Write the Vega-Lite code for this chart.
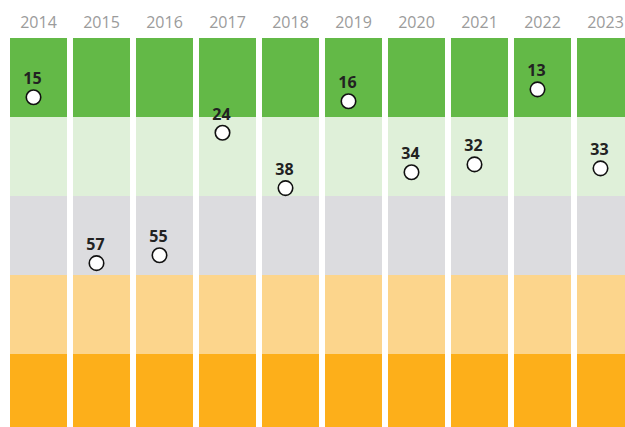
{
  "$schema": "https://vega.github.io/schema/vega-lite/v6.json",
  "autosize": "none",
  "width": 615,
  "height": 389,
  "padding": {"left": 10, "top": 38, "right": 0, "bottom": 0},
  "background": "white",
  "config": {"view": {"stroke": null}},
  "datasets": {
    "bands": [
      {"year": "2014", "band": "1", "lo": 0, "hi": 20}, {"year": "2014", "band": "2", "lo": 20, "hi": 40}, {"year": "2014", "band": "3", "lo": 40, "hi": 60}, {"year": "2014", "band": "4", "lo": 60, "hi": 80}, {"year": "2014", "band": "5", "lo": 80, "hi": 100},
      {"year": "2015", "band": "1", "lo": 0, "hi": 20}, {"year": "2015", "band": "2", "lo": 20, "hi": 40}, {"year": "2015", "band": "3", "lo": 40, "hi": 60}, {"year": "2015", "band": "4", "lo": 60, "hi": 80}, {"year": "2015", "band": "5", "lo": 80, "hi": 100},
      {"year": "2016", "band": "1", "lo": 0, "hi": 20}, {"year": "2016", "band": "2", "lo": 20, "hi": 40}, {"year": "2016", "band": "3", "lo": 40, "hi": 60}, {"year": "2016", "band": "4", "lo": 60, "hi": 80}, {"year": "2016", "band": "5", "lo": 80, "hi": 100},
      {"year": "2017", "band": "1", "lo": 0, "hi": 20}, {"year": "2017", "band": "2", "lo": 20, "hi": 40}, {"year": "2017", "band": "3", "lo": 40, "hi": 60}, {"year": "2017", "band": "4", "lo": 60, "hi": 80}, {"year": "2017", "band": "5", "lo": 80, "hi": 100},
      {"year": "2018", "band": "1", "lo": 0, "hi": 20}, {"year": "2018", "band": "2", "lo": 20, "hi": 40}, {"year": "2018", "band": "3", "lo": 40, "hi": 60}, {"year": "2018", "band": "4", "lo": 60, "hi": 80}, {"year": "2018", "band": "5", "lo": 80, "hi": 100},
      {"year": "2019", "band": "1", "lo": 0, "hi": 20}, {"year": "2019", "band": "2", "lo": 20, "hi": 40}, {"year": "2019", "band": "3", "lo": 40, "hi": 60}, {"year": "2019", "band": "4", "lo": 60, "hi": 80}, {"year": "2019", "band": "5", "lo": 80, "hi": 100},
      {"year": "2020", "band": "1", "lo": 0, "hi": 20}, {"year": "2020", "band": "2", "lo": 20, "hi": 40}, {"year": "2020", "band": "3", "lo": 40, "hi": 60}, {"year": "2020", "band": "4", "lo": 60, "hi": 80}, {"year": "2020", "band": "5", "lo": 80, "hi": 100},
      {"year": "2021", "band": "1", "lo": 0, "hi": 20}, {"year": "2021", "band": "2", "lo": 20, "hi": 40}, {"year": "2021", "band": "3", "lo": 40, "hi": 60}, {"year": "2021", "band": "4", "lo": 60, "hi": 80}, {"year": "2021", "band": "5", "lo": 80, "hi": 100},
      {"year": "2022", "band": "1", "lo": 0, "hi": 20}, {"year": "2022", "band": "2", "lo": 20, "hi": 40}, {"year": "2022", "band": "3", "lo": 40, "hi": 60}, {"year": "2022", "band": "4", "lo": 60, "hi": 80}, {"year": "2022", "band": "5", "lo": 80, "hi": 100},
      {"year": "2023", "band": "1", "lo": 0, "hi": 20}, {"year": "2023", "band": "2", "lo": 20, "hi": 40}, {"year": "2023", "band": "3", "lo": 40, "hi": 60}, {"year": "2023", "band": "4", "lo": 60, "hi": 80}, {"year": "2023", "band": "5", "lo": 80, "hi": 100}
    ],
    "scores": [
      {"year": "2014", "value": 15},
      {"year": "2015", "value": 57},
      {"year": "2016", "value": 55},
      {"year": "2017", "value": 24},
      {"year": "2018", "value": 38},
      {"year": "2019", "value": 16},
      {"year": "2020", "value": 34},
      {"year": "2021", "value": 32},
      {"year": "2022", "value": 13},
      {"year": "2023", "value": 33}
    ]
  },
  "layer": [
    {
      "data": {"name": "bands"},
      "mark": {"type": "rect", "clip": true},
      "encoding": {
        "x": {
          "field": "year", "type": "ordinal",
          "scale": {"range": [0, 624], "paddingInner": 0.0952, "paddingOuter": 0},
          "axis": {
            "orient": "top", "title": null, "domain": false, "ticks": false, "tickSize": 0,
            "labelAngle": 0, "labelFont": "Open Sans", "labelFontSize": 16, "labelColor": "#9b9b9b",
            "labelBaseline": "alphabetic", "labelPadding": 11
          }
        },
        "y": {"field": "lo", "type": "quantitative", "scale": {"domain": [0, 100], "range": [0, 395]}, "axis": null},
        "y2": {"field": "hi"},
        "color": {
          "field": "band", "type": "nominal", "legend": null,
          "scale": {"domain": ["1", "2", "3", "4", "5"], "range": ["#63b947", "#dff0d9", "#dcdcdf", "#fcd58c", "#fdaf1a"]}
        }
      }
    },
    {
      "data": {"name": "scores"},
      "mark": {"type": "point", "filled": false, "fill": "white", "stroke": "#111", "strokeWidth": 1.6, "size": 210, "opacity": 1, "xOffset": -5},
      "encoding": {
        "x": {"field": "year", "type": "ordinal"},
        "y": {"field": "value", "type": "quantitative"}
      }
    },
    {
      "data": {"name": "scores"},
      "mark": {"type": "text", "font": "Open Sans", "fontWeight": "bold", "fontSize": 16, "color": "#222", "baseline": "alphabetic", "xOffset": -6, "yOffset": -13},
      "encoding": {
        "x": {"field": "year", "type": "ordinal"},
        "y": {"field": "value", "type": "quantitative"},
        "text": {"field": "value", "type": "quantitative"}
      }
    }
  ]
}
